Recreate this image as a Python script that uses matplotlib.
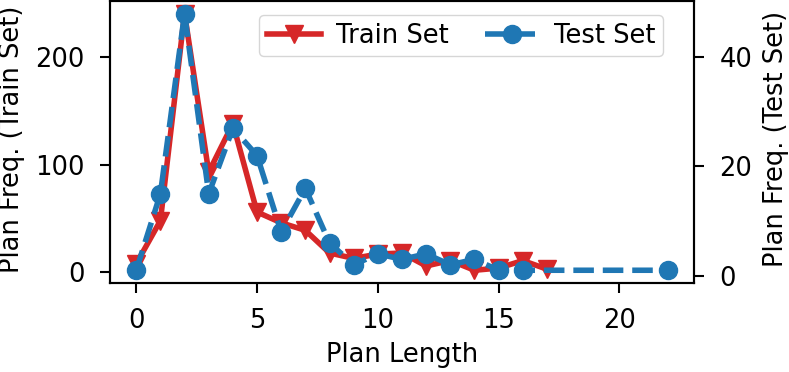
import matplotlib
matplotlib.use("Agg")
import matplotlib.pyplot as plt

# plan length frequencies
train_len = list(range(0, 18))
train_freq = [8, 48, 240, 93, 138, 56, 46, 39, 18, 13, 17, 18, 6, 11, 2, 4, 11, 3]

test_len = list(range(0, 17)) + [22]
test_freq = [1, 15, 48, 15, 27, 22, 8, 16, 6, 2, 4, 3, 4, 2, 3, 1, 1, 1]

fs = 18.5
plt.rcParams['font.size'] = fs

fig, ax = plt.subplots(figsize=(7.89, 3.72), dpi=100)
fig.subplots_adjust(left=0.139, right=0.88, top=0.998, bottom=0.239)
ax2 = ax.twinx()

l1, = ax.plot(train_len, train_freq, color='#d62728', marker='v',
              linewidth=4, markersize=13, label='Train Set')
l2, = ax2.plot(test_len, test_freq, color='#1f77b4', marker='o', linestyle='--',
               linewidth=4, markersize=13, label='Test Set')

ax.set_xlabel("Plan Length", fontsize=fs, labelpad=6)
ax.set_ylabel("Plan Freq. (Train Set)", fontsize=fs)
ax2.set_ylabel("Plan Freq. (Test Set)", fontsize=fs)
ax.yaxis.set_label_coords(-0.144, 0.51)
ax2.yaxis.set_label_coords(1.118, 0.51)
ax.set_xticks([0, 5, 10, 15, 20])
ax.set_yticks([0, 100, 200])
ax2.set_yticks([0, 20, 40])

for a in (ax, ax2):
    for s in a.spines.values():
        s.set_linewidth(1.5)
    a.tick_params(width=1.5, length=7, pad=11, labelsize=fs)

ax.legend(handles=[l1, l2], ncol=2, numpoints=1, loc='upper center',
          bbox_to_anchor=(0.601, 0.95), borderaxespad=0, fontsize=fs,
          handlelength=2.1, handletextpad=0.6, columnspacing=1.4, borderpad=0.3)

plt.savefig("out.png")
